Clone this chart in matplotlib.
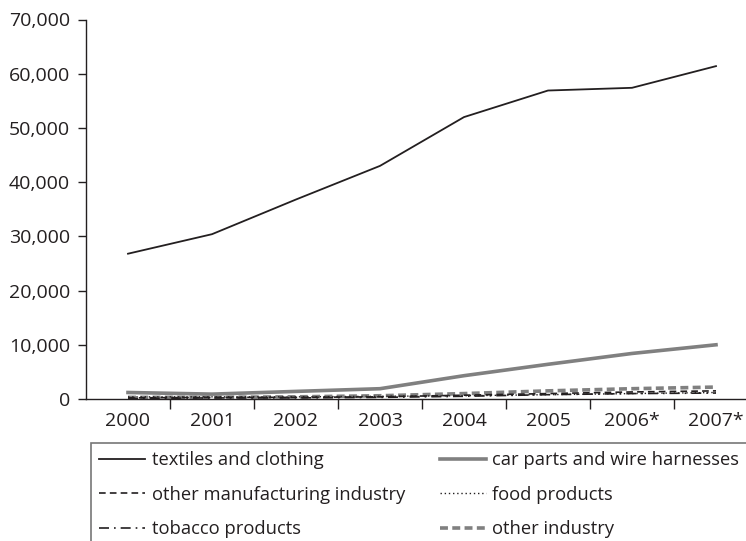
import matplotlib.pyplot as plt
import matplotlib.ticker as mticker
import numpy as np

years = ['2000', '2001', '2002', '2003', '2004', '2005', '2006*', '2007*']

textiles = [26800, 30400, 36800, 43000, 52000, 56900, 57400, 61400]
car_parts = [1200, 900, 1400, 1900, 4300, 6400, 8400, 10000]
other_manuf = [200, 300, 300, 400, 700, 1000, 1300, 1500]
food = [400, 400, 400, 500, 600, 800, 1000, 1200]
tobacco = [100, 200, 200, 300, 500, 800, 1000, 1100]
other_industry = [300, 300, 400, 600, 1000, 1500, 1900, 2200]

plt.rcParams['font.family'] = ['Open Sans', 'DejaVu Sans']
dark = '#231f20'
grey = '#808080'

fig = plt.figure(figsize=(7.46, 5.41), dpi=100)
ax = fig.add_axes([86/746, 1 - 399/541, 672/746, 379.5/541])

x = np.arange(len(years))

# small series first, main lines on top
ax.plot(x, other_industry, color=grey, lw=2.6, ls=(0, (2.2, 1.2)), label='other industry')
ax.plot(x, food, color=dark, lw=1.0, ls=(0, (1, 2)), label='food products')
ax.plot(x, tobacco, color=dark, lw=1.2, ls=(0, (6, 3, 1, 3)), label='tobacco products')
ax.plot(x, other_manuf, color=dark, lw=1.2, ls=(0, (4, 2.5)), label='other manufacturing industry')
ax.plot(x, car_parts, color=grey, lw=2.6, label='car parts and wire harnesses')
ax.plot(x, textiles, color=dark, lw=1.3, label='textiles and clothing')

ax.set_xlim(-0.5, len(years) - 0.5)
ax.set_ylim(0, 70000)
ax.yaxis.set_major_locator(mticker.MultipleLocator(10000))
ax.yaxis.set_major_formatter(mticker.StrMethodFormatter('{x:,.0f}'))

# category boundaries get ticks, labels sit at the centers
ax.set_xticks(np.arange(0.5, len(years) - 0.5, 1))
ax.set_xticklabels([])
ax.set_xticks(x, minor=True)
ax.set_xticklabels(years, minor=True)
ax.tick_params(axis='x', which='major', length=7, width=1, color=dark, direction='out')
ax.tick_params(axis='x', which='minor', length=0, pad=9, labelsize=14, labelcolor=dark)
ax.tick_params(axis='y', length=6, width=1, color=dark, labelsize=14, labelcolor=dark, pad=5.5)

for s in ['top', 'right']:
    ax.spines[s].set_visible(False)
for s in ['left', 'bottom']:
    ax.spines[s].set_color(dark)
    ax.spines[s].set_linewidth(1.0)

handles, labels = ax.get_legend_handles_labels()
order = ['textiles and clothing', 'car parts and wire harnesses',
         'other manufacturing industry', 'food products',
         'tobacco products', 'other industry']
hmap = dict(zip(labels, handles))
# ncol=2 fills column-wise, so reorder
col_order = [order[0], order[2], order[4], order[1], order[3], order[5]]
leg = fig.legend([hmap[l] for l in col_order], col_order, ncol=2,
                 loc='upper left', bbox_to_anchor=(91/746, 1 - 443/541),
                 borderaxespad=0, fontsize=13.2, frameon=True, fancybox=False,
                 handlelength=2.5, handletextpad=0.35, labelspacing=0.9,
                 columnspacing=1.9, borderpad=0.45)
leg.get_frame().set_edgecolor('#555555')
leg.get_frame().set_linewidth(1.2)
for t in leg.get_texts():
    t.set_color(dark)

fig.savefig('out.png', dpi=100)
